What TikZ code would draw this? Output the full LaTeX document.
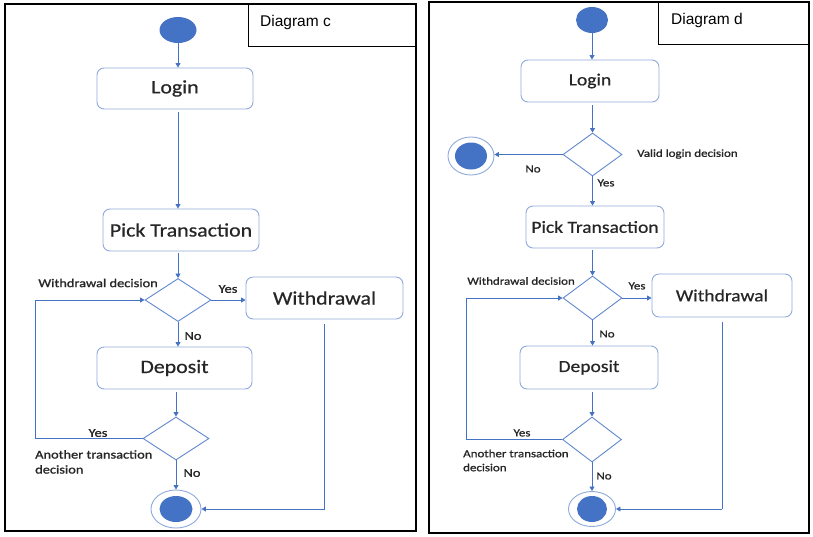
\documentclass[tikz,border=0pt]{standalone}
\usepackage{fontspec}
\setmainfont{Liberation Sans}
\newfontfamily\bxf[FakeStretch=1.15,FakeBold=0.6]{Carlito}
\newfontfamily\lbf[FakeStretch=1.2,FakeBold=1.2]{Carlito}
\usetikzlibrary{shapes.geometric,arrows.meta}
\definecolor{ln}{HTML}{4472C4}
\definecolor{bd}{HTML}{8EA9DB}
\definecolor{tx}{HTML}{262626}
\begin{document}
\begin{tikzpicture}[x=1pt,y=-1pt,
  act/.style={draw=bd,line width=0.9pt,rounded corners=7pt,inner sep=0pt,text=tx},
  actL/.style={act,font=\bxf\fontsize{19}{22}\selectfont},
  actR/.style={act,font=\bxf\fontsize{17}{20}\selectfont},
  dec/.style={draw=ln!85,line width=0.9pt,diamond,inner sep=0pt},
  ini/.style={ellipse,fill=ln,draw=none,inner sep=0pt},
  finout/.style={ellipse,draw=bd,line width=0.9pt,fill=white,inner sep=0pt},
  flow/.style={draw=ln,line width=0.8pt,-{Triangle[width=5pt,length=4.5pt]}},
  seg/.style={draw=ln,line width=0.8pt},
  labL/.style={text=tx,inner sep=0pt,font=\lbf\fontsize{12}{15}\selectfont},
  labR/.style={text=tx,inner sep=0pt,font=\lbf\fontsize{10.8}{14}\selectfont},
  frame/.style={draw=black,line width=1.6pt},
  tbox/.style={draw=black,line width=1.3pt,inner sep=0pt,anchor=north west},
  ttxt/.style={inner sep=0pt,anchor=base west,font=\fontsize{15.5}{18}\selectfont}
]
\useasboundingbox (0,0) rectangle (813,536);

% ================= Diagram c =================
\draw[frame] (5,4) rectangle (416,531);
\node[tbox,minimum width=168pt,minimum height=42pt] (tagC) at (248,4) {};
\node[ttxt] (tagCt) at (260,26) {Diagram c};

\node[ini,minimum width=37pt,minimum height=26pt] (startC) at (178,30) {};
\node[actL,minimum width=156pt,minimum height=41pt] (loginC) at (175,88.5) {Login};
\node[actL,minimum width=156pt,minimum height=42pt] (pickC) at (181,230) {Pick Transaction};
\node[dec,minimum width=66pt,minimum height=43pt] (d1C) at (178,300) {};
\node[actL,minimum width=157pt,minimum height=42pt] (wdC) at (324.5,298) {Withdrawal};
\node[actL,minimum width=155pt,minimum height=42pt] (depC) at (174.5,368) {Deposit};
\node[dec,minimum width=66pt,minimum height=43pt] (d2C) at (176,438.5) {};
\node[finout,minimum width=50pt,minimum height=38pt] (endC) at (176,509) {};
\node[ini,minimum width=33pt,minimum height=26pt] (endCi) at (176,509) {};
\coordinate (loopC) at (35,370);
\coordinate (lgC) at (loginC.south -| startC.south);

\draw[flow] (startC.south) -- (startC.south |- loginC.north);
\draw[flow,shorten <=3pt] (lgC) -- (lgC |- pickC.north);
\draw[flow,shorten <=2pt] (pickC.south -| d1C.north) -- (d1C.north);
\draw[flow] (d1C.east) -- (d1C.east -| wdC.west);
\draw[flow] (d1C.south) -- (d1C.south |- depC.north);
\draw[flow,shorten <=3pt] (depC.south -| d2C.north) -- (d2C.north);
\draw[seg] (d2C.west) -- (d2C.west -| loopC) -- (loopC |- d1C.west);
\draw[flow] (loopC |- d1C.west) -- (d1C.west);
\draw[flow] (d2C.south) -- (endC.north);
\draw[seg,shorten <=5pt] (wdC.south) -- (wdC.south |- endC.east);
\draw[flow] (wdC.south |- endC.east) -- (endC.east);

\node[labL,anchor=east] (lwdC) at (158,283) {Withdrawal decision};
\node[labL] (lyC1) at (228,289) {Yes};
\node[labL] (lnC1) at (193,336) {No};
\node[labL] (lyC2) at (98,433) {Yes};
\node[labL,anchor=north west,align=left] (latC) at (35,450) {Another transaction\\decision};
\node[labL] (lnC2) at (192,473) {No};

% ================= Diagram d =================
\draw[frame] (429,2) rectangle (809,533);
\node[tbox,minimum width=151pt,minimum height=42pt] (tagD) at (658,2) {};
\node[ttxt] (tagDt) at (671,24) {Diagram d};

\node[ini,minimum width=32pt,minimum height=26pt] (startD) at (592,20) {};
\node[actR,minimum width=138pt,minimum height=42pt] (loginD) at (590,81) {Login};
\node[dec,minimum width=59pt,minimum height=43pt] (dvD) at (592.5,154.5) {};
\node[finout,minimum width=46pt,minimum height=38pt] (end1D) at (471,156) {};
\node[ini,minimum width=32pt,minimum height=27pt] (end1Di) at (471,156) {};
\node[actR,minimum width=138pt,minimum height=42pt] (pickD) at (595,227) {Pick Transaction};
\node[dec,minimum width=59pt,minimum height=44pt] (dwD) at (592.5,298) {};
\node[actR,minimum width=140pt,minimum height=43pt] (wdD) at (722,295.5) {Withdrawal};
\node[actR,minimum width=138pt,minimum height=43pt] (depD) at (589,367.5) {Deposit};
\node[dec,minimum width=59pt,minimum height=45pt] (d2D) at (592,439.5) {};
\node[finout,minimum width=47pt,minimum height=35pt] (endD) at (592,509) {};
\node[ini,minimum width=30pt,minimum height=26pt] (endDi) at (592,509) {};
\coordinate (loopD) at (466,370);

\draw[flow] (startD.south) -- (startD.south |- loginD.north);
\draw[flow,shorten <=3pt] (loginD.south -| dvD.north) -- (dvD.north);
\draw[flow] (dvD.west) -- (dvD.west -| end1D.east);
\draw[flow] (dvD.south) -- (dvD.south |- pickD.north);
\draw[flow,shorten <=2pt] (pickD.south -| dwD.north) -- (dwD.north);
\draw[flow] (dwD.east) -- (dwD.east -| wdD.west);
\draw[flow] (dwD.south) -- (dwD.south |- depD.north);
\draw[flow,shorten <=3pt] (depD.south -| d2D.north) -- (d2D.north);
\draw[seg] (d2D.west) -- (d2D.west -| loopD) -- (loopD |- dwD.west);
\draw[flow] (loopD |- dwD.west) -- (dwD.west);
\draw[flow] (d2D.south) -- (endD.north);
\draw[seg,shorten <=5pt] (wdD.south) -- (wdD.south |- endD.east);
\draw[flow] (wdD.south |- endD.east) -- (endD.east);

\node[labR] (lnD0) at (533,169) {No};
\node[labR,anchor=west] (lvD) at (637,154) {Valid login decision};
\node[labR] (lyD0) at (606,183) {Yes};
\node[labR,anchor=east] (lwdD) at (575,281) {Withdrawal decision};
\node[labR] (lyD1) at (637,286) {Yes};
\node[labR] (lnD1) at (607,334) {No};
\node[labR] (lyD2) at (522,433) {Yes};
\node[labR,anchor=north west,align=left] (latD) at (463,449.5) {Another transaction\\decision};
\node[labR] (lnD2) at (604,476) {No};
\end{tikzpicture}
\end{document}
